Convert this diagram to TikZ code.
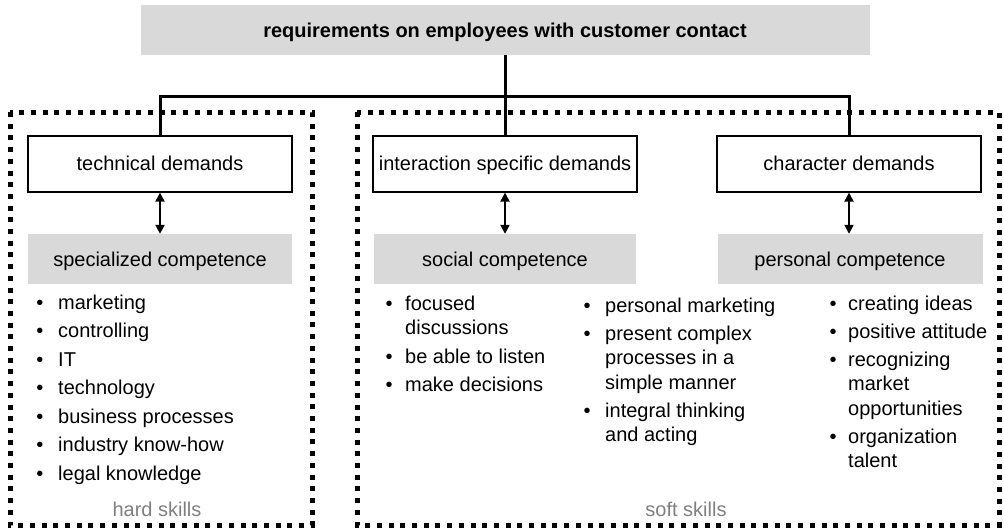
\documentclass[tikz,border=0pt]{standalone}
\usepackage{fontspec}
\setmainfont{Liberation Sans}
\usetikzlibrary{arrows.meta}
\definecolor{boxgray}{HTML}{D9D9D9}
\definecolor{skillgray}{HTML}{7F7F7F}
\newcommand{\pxfont}{\fontsize{20}{24}\selectfont}

\begin{document}
\begin{tikzpicture}[x=1pt,y=-1pt,>={Triangle[length=9pt,width=9pt]},
  font=\pxfont,
  demand/.style={draw,line width=1.2pt,minimum width=264pt,minimum height=56pt,inner sep=0pt,
                 text height=16pt,text depth=3pt},
  compbox/.style={fill=boxgray,minimum height=50pt,inner sep=0pt,text height=16.5pt,text depth=2pt},
  item/.style={anchor=base west,inner sep=0pt},
  dot/.style={anchor=base,inner sep=0pt},
  frame/.style={line width=5pt,dash pattern=on 5pt off 6.7pt},
  skill/.style={anchor=base,inner sep=0pt,text=skillgray}]
  \useasboundingbox (0,0) rectangle (1004,528);
  % dotted frames
  \draw[frame] (10,112) rectangle (312,525);
  \draw[frame] (357,112) rectangle (999,525);
  % boxes
  \node[compbox,minimum width=729pt,font=\pxfont\bfseries] (title) at (505,30)
    {requirements on employees with customer contact};
  \node[demand] (tech) at (160,164) {technical demands};
  \node[demand] (inter) at (505,164) {interaction specific demands};
  \node[demand] (char) at (849,164) {character demands};
  \node[compbox,minimum width=264pt] (spec) at (160,259) {specialized competence};
  \node[compbox,minimum width=262pt] (social) at (505,259) {social competence};
  \node[compbox,minimum width=265pt] (personal) at (850,259) {personal competence};
  % tree
  \coordinate (bus) at (505,96);
  \draw[line width=3pt] (title.south) -- (inter.north);
  \draw[line width=3pt] (tech.north) |- (bus) -| (char.north);
  \draw[<->,line width=2pt] (tech.south) -- (spec.north);
  \draw[<->,line width=2pt] (inter.south) -- (social.north);
  \draw[<->,line width=2pt] (char.south) -- (char.south |- personal.north);
  % hard skill list
  \foreach \yy/\txt [count=\i] in {309/marketing,337.5/controlling,366/IT,394.5/technology,
                                   423/business processes,451.5/industry know-how,480/legal knowledge} {
    \node[dot] (hb\i) at (40,\yy) {•};
    \node[item] (hs\i) at (58,\yy) {\txt};
  }
  % soft skill lists (b=1 starts an item)
  \foreach \yy/\b/\txt [count=\i] in {310/1/focused,334.5/0/discussions,363/1/be able to listen,
                                      391.5/1/make decisions} {
    \ifnum\b=1 \node[dot] (sb\i) at (389,\yy) {•}; \fi
    \node[item] (ss\i) at (405,\yy) {\txt};
  }
  \foreach \yy/\b/\txt [count=\i] in {312/1/personal marketing,340/1/present complex,364.5/0/processes in a,
                                      389/0/simple manner,417/1/integral thinking,441.5/0/and acting} {
    \ifnum\b=1 \node[dot] (mb\i) at (587,\yy) {•}; \fi
    \node[item] (ms\i) at (605,\yy) {\txt};
  }
  \foreach \yy/\b/\txt [count=\i] in {310/1/creating ideas,338/1/positive attitude,366/1/recognizing,
                                      390.5/0/market,415/0/opportunities,443/1/organization,467.5/0/talent} {
    \ifnum\b=1 \node[dot] (pb\i) at (833,\yy) {•}; \fi
    \node[item] (ps\i) at (848,\yy) {\txt};
  }
  % frame labels
  \node[skill] (hard) at (157,516) {hard skills};
  \node[skill] (soft) at (686,516) {soft skills};
\end{tikzpicture}
\end{document}
